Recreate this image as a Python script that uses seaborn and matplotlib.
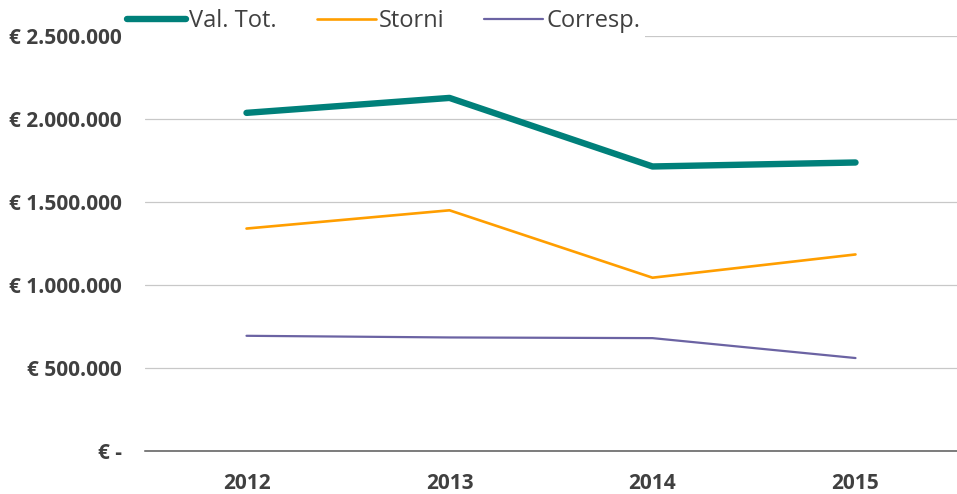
import matplotlib.pyplot as plt
import pandas as pd
import seaborn as sns
from matplotlib.ticker import FixedLocator, FuncFormatter

# data
years = [2012, 2013, 2014, 2015]
val_tot = [2037000, 2127000, 1714000, 1738000]
storni = [1340000, 1450000, 1044000, 1184000]
corresp = [694000, 684000, 680000, 560000]
series_names = ['Val. Tot.', 'Storni', 'Corresp.']

df = pd.DataFrame({'year': years * 3,
                   'value': val_tot + storni + corresp,
                   'series': [s for s in series_names for _ in years]})

colors = {'Val. Tot.': '#00807A', 'Storni': '#FF9E00', 'Corresp.': '#6B63A3'}
widths = {'Val. Tot.': 4.6, 'Storni': 1.9, 'Corresp.': 1.6}

sns.set_style('white')
plt.rcParams['font.family'] = ['Open Sans', 'DejaVu Sans']
text_col = '#404040'


def euro(v, pos):
    if v == 0:
        return '€ -'
    return '€ ' + f'{int(v):,}'.replace(',', '.')


fig = plt.figure(figsize=(9.57, 4.94), dpi=100)
ax = fig.add_axes([145 / 957, 43 / 494, 812 / 957, (451 - 36) / 494])

for name in series_names:
    sns.lineplot(data=df[df['series'] == name], x='year', y='value', ax=ax,
                 color=colors[name], linewidth=widths[name], label=name,
                 solid_capstyle='round', zorder=3)

ax.set_ylim(0, 2500000)
ax.set_xlim(2011.5, 2011.5 + 812 / 204.5)
ax.yaxis.set_major_locator(FixedLocator([0, 500000, 1000000, 1500000, 2000000, 2500000]))
ax.yaxis.set_major_formatter(FuncFormatter(euro))
ax.set_xticks(years)
ax.set_xticks([2011.5, 2012.5, 2013.5, 2014.5, 2015.5], minor=True)
ax.grid(axis='y', color='#c8c8c8', linewidth=0.9)
ax.set_axisbelow(True)

for side in ['top', 'right', 'left']:
    ax.spines[side].set_visible(False)
ax.spines['bottom'].set_color('#595959')
ax.spines['bottom'].set_linewidth(1.1)

ax.tick_params(axis='y', length=0, pad=16.5, labelsize=15, labelcolor=text_col)
ax.tick_params(axis='x', which='major', length=0, pad=15.5, labelsize=15, labelcolor=text_col)
ax.tick_params(axis='x', which='minor', length=4, width=1, color='#595959', direction='out')
for lab in ax.get_xticklabels() + ax.get_yticklabels():
    lab.set_fontweight('bold')

ax.set_xlabel('')
ax.set_ylabel('')

leg = ax.legend(loc='center left', bbox_to_anchor=(122 / 957, 1 - 21 / 494),
                bbox_transform=fig.transFigure, ncol=3, frameon=True,
                fontsize=17, handlelength=2.5, handletextpad=0.13,
                columnspacing=1.7, borderpad=0.2, borderaxespad=0)
leg.get_frame().set_facecolor('white')
leg.get_frame().set_edgecolor('none')
leg.get_frame().set_alpha(1)
leg.get_frame().set_boxstyle('square', pad=0)
for t in leg.get_texts():
    t.set_color(text_col)

fig.savefig('out.png', dpi=100)
